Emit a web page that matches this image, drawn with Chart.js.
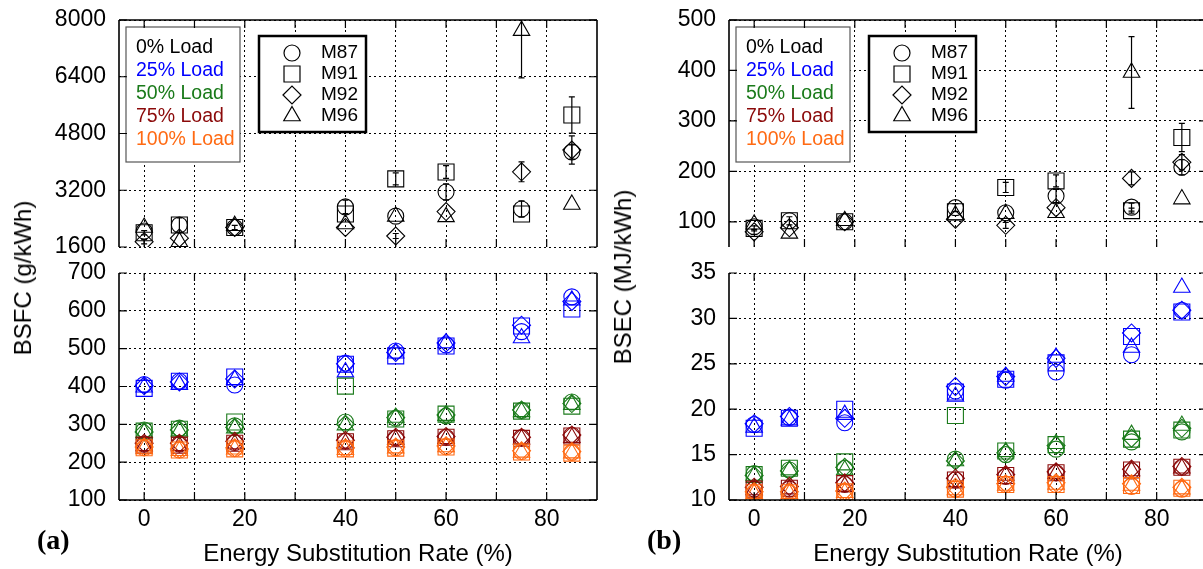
<!DOCTYPE html>
<html>
<head>
<meta charset="utf-8">
<script src="https://cdn.jsdelivr.net/npm/chart.js@4.4.0/dist/chart.umd.min.js"></script>
<style>
  body { margin: 0; background: #fff; }
  #page { position: relative; width: 1203px; height: 569px; overflow: hidden; font-family: 'Liberation Sans', Arial, sans-serif; }
  canvas { position: absolute; }
  .ytitle { position: absolute; font-size: 24px; white-space: nowrap; transform: translate(-50%, -50%) rotate(-90deg); }
  .tag { position: absolute; font: bold 28px 'Liberation Serif', 'Times New Roman', serif; line-height: 1; }
</style>
</head>
<body>
<div id="page">
  <canvas id="bsfcTop" width="610" height="262" style="left:0;top:0"></canvas>
  <canvas id="bsfcBottom" width="610" height="319" style="left:0;top:250px"></canvas>
  <canvas id="bsecTop" width="610" height="262" style="left:610px;top:0"></canvas>
  <canvas id="bsecBottom" width="610" height="319" style="left:610px;top:250px"></canvas>
  <div class="ytitle" style="left:23px;top:278px">BSFC (g/kWh)</div>
  <div class="ytitle" style="left:623px;top:277px">BSEC (MJ/kWh)</div>
  <div class="tag" style="left:37px;top:526px">(a)</div>
  <div class="tag" style="left:647px;top:526px">(b)</div>
</div>
<script>
// Energy substitution rates (%) tested
const esr = [0, 7, 18, 40, 50, 60, 75, 85];
const xGridTicks = [0, 10, 20, 30, 40, 50, 60, 70, 80];
const xLabelTicks = [0, 20, 40, 60, 80];

const loads = ['0% Load', '25% Load', '50% Load', '75% Load', '100% Load'];
const loadColors = ['#000000', '#0000ff', '#1a7a1a', '#8b0a0a', '#ff6a13'];
const fuels = ['M87', 'M91', 'M92', 'M96'];
const fuelStyles = ['circle', 'rect', 'rectRot', 'triangle'];
const fuelRadius = [8, 11.3, 9, 9.5];

// axis ticks
const bsfcTopTicks = [1600, 3200, 4800, 6400, 8000];
const bsfcBottomTicks = [100, 200, 300, 400, 500, 600, 700];
const bsecTopTicks = [100, 200, 300, 400, 500];
const bsecBottomTicks = [10, 15, 20, 25, 30, 35];

// BSFC (g/kWh) - rows: M87, M91, M92, M96
const bsfc0 = [
    [2050, 2220, 2150, 2730, 2470, 3150, 2670, 4280],
    [2000, 2220, 2150, 2530, 3520, 3715, 2530, 5320],
    [1750, 1850, 2150, 2150, 1910, 2600, 3720, 4335],
    [2150, 1750, 2200, 2250, 2460, 2450, 7700, 2800]
];
const bsfc0Err = [
    [0, 200, 0, 190, 0, 230, 230, 200],
    [60, 0, 60, 0, 170, 180, 0, 510],
    [60, 0, 0, 0, 70, 0, 280, 400],
    [0, 0, 0, 0, 0, 0, 1330, 0]
];
const bsfc25 = [
    [405, 414, 404, 462, 494, 510, 545, 637],
    [395, 414, 425, 459, 481, 507, 560, 605],
    [402, 412, 420, 460, 490, 515, 562, 625],
    [398, 405, 418, 438, 488, 515, 528, 628]
];
const bsfc50 = [
    [285, 290, 296, 306, 316, 322, 337, 359],
    [282, 287, 306, 401, 314, 327, 335, 348],
    [280, 285, 292, 300, 318, 325, 338, 355],
    [278, 282, 290, 298, 318, 323, 333, 352]
];
const bsfc75 = [
    [248, 248, 252, 256, 264, 266, 265, 271],
    [245, 245, 250, 254, 262, 266, 263, 269],
    [250, 250, 255, 258, 266, 268, 266, 272],
    [243, 243, 248, 250, 260, 262, 261, 265]
];
const bsfc100 = [
    [238, 232, 236, 236, 238, 241, 228, 226],
    [238, 232, 235, 235, 237, 240, 227, 224],
    [240, 235, 238, 238, 240, 243, 230, 228],
    [235, 230, 234, 233, 237, 240, 226, 224]
];

// BSEC (MJ/kWh) - rows: M87, M91, M92, M96
const bsec0 = [
    [90, 102, 100, 128, 118, 151, 129, 208],
    [87, 102, 100, 120, 168, 181, 122, 267],
    [80, 88, 100, 105, 93, 128, 186, 218],
    [95, 77, 102, 113, 116, 118, 396, 145]
];
const bsec0Err = [
    [0, 8, 0, 8, 0, 13, 8, 15],
    [5, 0, 0, 0, 10, 12, 5, 28],
    [5, 0, 0, 0, 6, 0, 13, 15],
    [0, 0, 0, 0, 0, 0, 71, 0]
];
const bsec25 = [
    [18.3, 19.1, 18.5, 22.0, 23.2, 24.1, 26.0, 30.9],
    [17.9, 19.0, 20.0, 21.9, 23.3, 25.1, 28.0, 30.7],
    [18.4, 19.2, 19.0, 22.5, 23.6, 25.6, 28.4, 30.9],
    [18.0, 18.8, 19.4, 21.4, 23.6, 25.7, 26.8, 33.4]
];
const bsec50 = [
    [12.9, 13.3, 13.5, 14.5, 15.0, 15.6, 16.4, 17.5],
    [12.8, 13.5, 14.2, 19.3, 15.4, 16.1, 16.7, 17.7],
    [12.7, 13.2, 13.6, 14.3, 15.2, 16.0, 16.8, 17.9],
    [12.7, 13.3, 13.3, 14.3, 15.3, 16.2, 17.2, 18.2]
];
const bsec75 = [
    [11.2, 11.2, 11.7, 12.2, 12.6, 13.0, 13.2, 13.6],
    [11.2, 11.3, 11.8, 12.2, 12.7, 13.0, 13.3, 13.6],
    [11.4, 11.5, 11.9, 12.4, 12.8, 13.1, 13.4, 13.7],
    [11.1, 11.2, 11.5, 12.0, 12.7, 12.9, 13.2, 13.5]
];
const bsec100 = [
    [10.8, 10.8, 10.9, 11.2, 11.7, 11.7, 11.5, 11.2],
    [10.8, 10.8, 10.9, 11.2, 11.7, 11.7, 11.6, 11.3],
    [10.9, 10.9, 11.0, 11.4, 11.8, 11.9, 11.8, 11.4],
    [10.7, 10.7, 10.8, 11.1, 11.6, 11.7, 11.6, 11.2]
];

const FONT = "'Liberation Sans', Arial, sans-serif";
Chart.defaults.font.family = FONT;
Chart.defaults.font.size = 23;
Chart.defaults.color = '#000';

/**
 * Barres d'erreur verticales (demi-largeur dans dataset.errorBars)
 */
const errorBarPlugin = {
    id: 'errorBars',
    afterDatasetsDraw(chart) {
        const { ctx, chartArea: a, scales: { x, y } } = chart;
        ctx.save();
        ctx.beginPath();
        ctx.rect(a.left, a.top, a.right - a.left, a.bottom - a.top);
        ctx.clip();
        chart.data.datasets.forEach(ds => {
            if (!ds.errorBars) return;
            ctx.strokeStyle = ds.borderColor;
            ctx.lineWidth = 1.2;
            ds.data.forEach((pt, i) => {
                const e = ds.errorBars[i];
                if (!e) return;
                const px = x.getPixelForValue(pt.x);
                const y1 = y.getPixelForValue(pt.y + e);
                const y2 = y.getPixelForValue(pt.y - e);
                ctx.beginPath();
                ctx.moveTo(px, y1); ctx.lineTo(px, y2);
                ctx.moveTo(px - 3, y1); ctx.lineTo(px + 3, y1);
                ctx.moveTo(px - 3, y2); ctx.lineTo(px + 3, y2);
                ctx.stroke();
            });
        });
        ctx.restore();
    }
};

/**
 * Légendes (charges en couleur + symboles des carburants)
 */
const keyPlugin = {
    id: 'keys',
    afterDraw(chart) {
        const { ctx, chartArea: a } = chart;
        ctx.save();
        ctx.font = '19.5px ' + FONT;
        ctx.textBaseline = 'middle';

        let bx = a.left + 7, by = a.top + 7;
        ctx.fillStyle = '#fff';
        ctx.fillRect(bx, by, 114, 135);
        ctx.strokeStyle = '#555';
        ctx.lineWidth = 1.2;
        ctx.strokeRect(bx, by, 114, 135);
        loads.forEach((name, i) => {
            ctx.fillStyle = loadColors[i];
            ctx.fillText(name, bx + 10, by + 21 + i * 22.8);
        });

        bx = a.left + 140; by = a.top + 16;
        ctx.fillStyle = '#fff';
        ctx.fillRect(bx, by, 107, 96);
        ctx.strokeStyle = '#000';
        ctx.lineWidth = 2.5;
        ctx.strokeRect(bx, by, 107, 96);
        ctx.lineWidth = 1.2;
        ctx.font = '19px ' + FONT;
        fuels.forEach((name, i) => {
            const cy = by + 17 + i * 21;
            ctx.fillStyle = '#fff';
            Chart.helpers.drawPoint(ctx, { pointStyle: fuelStyles[i], radius: fuelRadius[i], borderWidth: 1.2, rotation: 0 }, bx + 33, cy);
            ctx.fillStyle = '#000';
            ctx.fillText(name, bx + 62, cy);
        });
        ctx.restore();
    }
};

/**
 * Cadre (côtés pleins) et petites graduations vers l'intérieur
 */
const framePlugin = {
    id: 'frame',
    afterDraw(chart, args, opts) {
        const { ctx, chartArea: a, scales: { x, y } } = chart;
        ctx.save();
        ctx.strokeStyle = '#000';
        ctx.lineWidth = 1.6;
        ctx.beginPath();
        if (opts.top) { ctx.moveTo(a.left, a.top); ctx.lineTo(a.right, a.top); }
        if (opts.bottom) { ctx.moveTo(a.left, a.bottom); ctx.lineTo(a.right, a.bottom); }
        ctx.moveTo(a.left, a.top); ctx.lineTo(a.left, a.bottom);
        ctx.moveTo(a.right, a.top); ctx.lineTo(a.right, a.bottom);
        ctx.stroke();

        const tick = 8;
        ctx.lineWidth = 1.2;
        ctx.beginPath();
        xGridTicks.forEach(v => {
            const px = x.getPixelForValue(v);
            ctx.moveTo(px, a.bottom); ctx.lineTo(px, a.bottom - tick);
            ctx.moveTo(px, a.top); ctx.lineTo(px, a.top + tick);
        });
        y.ticks.forEach(t => {
            const py = y.getPixelForValue(t.value);
            ctx.moveTo(a.left, py); ctx.lineTo(a.left + tick, py);
            ctx.moveTo(a.right, py); ctx.lineTo(a.right - tick, py);
        });
        ctx.stroke();
        ctx.restore();
    }
};

function buildDatasets(series, loadIdx, errors) {
    return fuels.map((fuel, f) => ({
        label: `${loads[loadIdx]} ${fuel}`,
        data: esr.map((x, i) => ({ x, y: series[f][i] })),
        errorBars: errors ? errors[f] : null,
        order: 10 - loadIdx,
        pointStyle: fuelStyles[f],
        pointRadius: fuelRadius[f],
        pointBorderWidth: 1.1,
        borderColor: loadColors[loadIdx],
        pointBorderColor: loadColors[loadIdx],
        backgroundColor: 'transparent',
        pointBackgroundColor: 'transparent',
        showLine: false
    }));
}

function createPanelChart(canvasId, datasets, cfg) {
    const gridOpts = { color: '#000', lineWidth: 1, drawTicks: false };
    const borderOpts = { display: false, dash: [2, 3] };
    return new Chart(document.getElementById(canvasId), {
        type: 'scatter',
        data: { datasets },
        options: {
            responsive: false,
            animation: false,
            events: [],
            layout: { padding: cfg.padding },
            plugins: {
                legend: { display: false },
                tooltip: { enabled: false },
                keys: cfg.keys ? {} : false,
                frame: cfg.frame
            },
            scales: {
                x: {
                    type: 'linear',
                    min: -5,
                    max: 90,
                    afterBuildTicks: s => { s.ticks = xGridTicks.map(value => ({ value })); },
                    afterFit: s => { s.height = cfg.xHeight; s.paddingLeft = 0; s.paddingRight = 0; },
                    grid: gridOpts,
                    border: borderOpts,
                    ticks: {
                        display: cfg.xLabels,
                        autoSkip: false,
                        maxRotation: 0,
                        padding: 6,
                        callback: v => xLabelTicks.includes(v) ? String(v) : ''
                    },
                    title: {
                        display: cfg.xLabels,
                        text: 'Energy Substitution Rate (%)',
                        font: { size: 24 },
                        padding: 0
                    }
                },
                y: {
                    type: 'linear',
                    min: cfg.yMin,
                    max: cfg.yMax,
                    afterBuildTicks: s => { s.ticks = cfg.yTicks.map(value => ({ value })); },
                    // largeur fixe, sans marge ajoutée pour les étiquettes extrêmes
                    afterFit: s => { s.width = 119; s.paddingTop = 0; s.paddingBottom = 0; },
                    grid: gridOpts,
                    border: borderOpts,
                    ticks: { padding: 13, callback: v => String(v) }
                }
            }
        },
        plugins: [errorBarPlugin, keyPlugin, framePlugin]
    });
}

const topCfg = { padding: { top: 20, right: 13, left: 0, bottom: 0 }, xHeight: 15, xLabels: false, keys: true, frame: { top: true, bottom: false } };
const bottomCfg = { padding: { top: 23, right: 13, left: 0, bottom: 0 }, xHeight: 69, xLabels: true, keys: false, frame: { top: false, bottom: true } };

// (a) BSFC
createPanelChart('bsfcTop', buildDatasets(bsfc0, 0, bsfc0Err),
    { ...topCfg, yMin: 1600, yMax: 8000, yTicks: bsfcTopTicks });
createPanelChart('bsfcBottom', [
    ...buildDatasets(bsfc25, 1), ...buildDatasets(bsfc50, 2),
    ...buildDatasets(bsfc75, 3), ...buildDatasets(bsfc100, 4)
], { ...bottomCfg, yMin: 100, yMax: 700, yTicks: bsfcBottomTicks });

// (b) BSEC
createPanelChart('bsecTop', buildDatasets(bsec0, 0, bsec0Err),
    { ...topCfg, yMin: 50, yMax: 500, yTicks: bsecTopTicks });
createPanelChart('bsecBottom', [
    ...buildDatasets(bsec25, 1), ...buildDatasets(bsec50, 2),
    ...buildDatasets(bsec75, 3), ...buildDatasets(bsec100, 4)
], { ...bottomCfg, yMin: 10, yMax: 35, yTicks: bsecBottomTicks });
</script>
</body>
</html>
